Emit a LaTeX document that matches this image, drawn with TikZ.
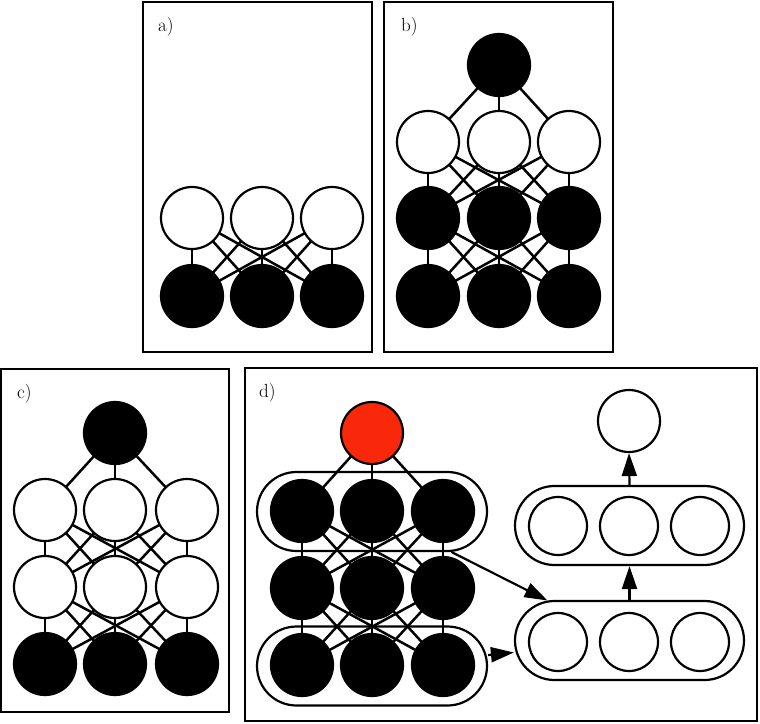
\documentclass[tikz,border=0pt]{standalone}
\usetikzlibrary{shapes.misc,arrows.meta,backgrounds}
\definecolor{redone}{RGB}{250,40,10}
\begin{document}
\begin{tikzpicture}[x=1pt,y=-1pt,
  wn/.style={circle,draw,line width=2.2pt,fill=white,minimum size=62pt,inner sep=0pt},
  bn/.style={circle,draw,line width=2.2pt,fill=black,minimum size=62pt,inner sep=0pt},
  rn/.style={circle,draw,line width=2.2pt,fill=redone,minimum size=62pt,inner sep=0pt},
  sn/.style={circle,draw,line width=2.2pt,fill=white,minimum size=58pt,inner sep=0pt},
  panel/.style={draw,line width=2.2pt},
  edge/.style={line width=2.5pt},
  grp/.style={rounded rectangle,draw,line width=2.2pt,minimum width=230pt,minimum height=79pt,inner sep=0pt},
  arr/.style={line width=2.2pt,-{Triangle[length=23pt,width=15pt]}},
  lab/.style={anchor=base west,inner sep=0pt,font=\fontsize{19}{22}\selectfont}]
\useasboundingbox (0,0) rectangle (760,723);
% panel frames
\draw[panel] (143,2) rectangle (372,352);
\draw[panel] (384,2) rectangle (613,352);
\draw[panel] (1,369) rectangle (229,712);
\draw[panel] (245,368) rectangle (757,721);
\node[lab] (la) at (158,31) {a)};
\node[lab] (lb) at (401,31) {b)};
\node[lab] (lc) at (17,398) {c)};
\node[lab] (ld) at (259,397) {d)};
% panel a
\foreach \i/\x in {1/192,2/262,3/332}{
  \node[wn] (aT\i) at (\x,218) {};
  \node[bn] (aB\i) at (\x,296) {};
}
% panel b
\node[bn] (bTop) at (499,65) {};
\foreach \i/\x in {1/428,2/499,3/569}{
  \node[wn] (bA\i) at (\x,142) {};
  \node[bn] (bB\i) at (\x,218) {};
  \node[bn] (bC\i) at (\x,296) {};
}
% panel c
\node[bn] (cTop) at (115,433) {};
\foreach \i/\x in {1/45,2/115,3/187}{
  \node[wn] (cA\i) at (\x,510) {};
  \node[wn] (cB\i) at (\x,587) {};
  \node[bn] (cC\i) at (\x,664) {};
}
% panel d
\node[rn] (dTop) at (372,433) {};
\foreach \i/\x in {1/302,2/372,3/443}{
  \node[bn] (dA\i) at (\x,511) {};
  \node[bn] (dB\i) at (\x,588) {};
  \node[bn] (dC\i) at (\x,665) {};
}
\node[grp] (grpT) at (372,511.5) {};
\node[grp] (grpB) at (372,666) {};
\node[grp,minimum width=229pt] (rect1) at (629.5,640.5) {};
\node[grp,minimum width=229pt] (rect2) at (629.5,525.5) {};
\foreach \i/\x in {1/558,2/629,3/700}{
  \node[sn] (rA\i) at (\x,642) {};
  \node[sn] (rB\i) at (\x,526) {};
}
\node[wn] (topw) at (629,421) {};
% connectors
\begin{pgfonlayer}{background}
\foreach \i in {1,2,3}{
  \draw[edge] (bTop.center) -- (bA\i.center);
  \draw[edge] (cTop.center) -- (cA\i.center);
  \draw[edge] (dTop.center) -- (dA\i.center);
  \foreach \j in {1,2,3}{
    \draw[edge] (aT\i.center) -- (aB\j.center);
    \draw[edge] (bA\i.center) -- (bB\j.center);
    \draw[edge] (bB\i.center) -- (bC\j.center);
    \draw[edge] (cA\i.center) -- (cB\j.center);
    \draw[edge] (cB\i.center) -- (cC\j.center);
    \draw[edge] (dA\i.center) -- (dB\j.center);
    \draw[edge] (dB\i.center) -- (dC\j.center);
  }
}
\end{pgfonlayer}
\draw[arr] (rect1.north) -- (rect2.south);
\draw[arr] (rect2.north) -- (topw.south);
\draw[arr] (grpT.-27) -- (rect1.154);
\draw[arr] ([yshift=11pt]grpB.east) -- ([yshift=-12pt]rect1.west);
\end{tikzpicture}
\end{document}
